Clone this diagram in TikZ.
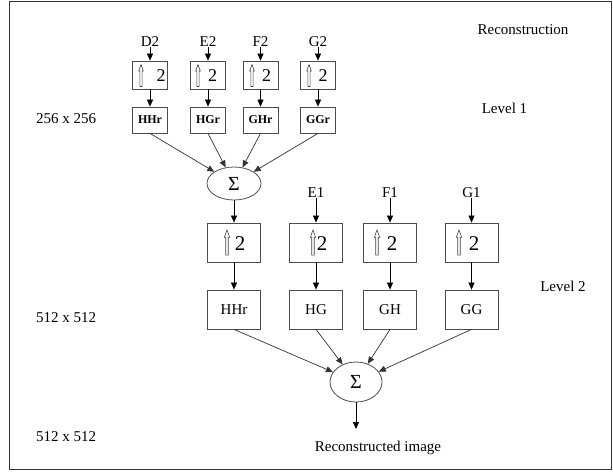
\documentclass[tikz,border=0pt]{standalone}
\usepackage{fontspec}
\setmainfont{Liberation Serif}
\usetikzlibrary{arrows.meta,shapes.geometric}

\tikzset{
  txt/.style={font=\fontsize{15}{15}\selectfont, inner sep=0pt},
  upbox/.style={draw=black!70, line width=0.8pt, minimum width=35pt, minimum height=28pt, inner sep=0pt},
  upboxL/.style={draw=black!70, line width=0.8pt, minimum width=53pt, minimum height=39pt, inner sep=0pt},
  filtbox/.style={draw=black!70, line width=0.8pt, minimum width=35pt, minimum height=26pt, inner sep=0pt,
                  font=\fontsize{12}{12}\selectfont\bfseries},
  filtboxL/.style={draw=black!70, line width=0.8pt, minimum width=53pt, minimum height=39pt, inner sep=0pt,
                  font=\fontsize{15}{15}\selectfont},
  sumnode/.style={ellipse, draw=black!70, line width=0.8pt, inner sep=0pt,
                  font=\fontsize{20}{20}\selectfont},
  two/.style={inner sep=0pt, font=\fontsize{18}{18}\selectfont},
  twoL/.style={inner sep=0pt, font=\fontsize{21}{21}\selectfont},
  arr/.style={draw=black, line width=0.7pt, -{Triangle[length=7pt,width=6pt]}},
  uparr/.pic={
    \draw[line width=0.6pt, draw=black!75, fill=white]
      (-1.1,11) -- (-1.1,-4.5) -- (-2.3,-4.5) -- (0,-11) -- (2.3,-4.5) -- (1.1,-4.5) -- (1.1,11) -- cycle;
  },
}

\begin{document}
\begin{tikzpicture}[x=1pt,y=-1pt]
\useasboundingbox (0,0) rectangle (613,472);
% outer frame
\draw[draw=black!80, line width=1.8pt] (9.5,1.5) rectangle (611.5,469.5);

% side labels
\node[txt] (title) at (523,30) {Reconstruction};
\node[txt] (lev1) at (504.5,108) {Level 1};
\node[txt] (lev2) at (563,286) {Level 2};
\node[txt] (res1) at (66,119) {256 x 256};
\node[txt] (res2) at (66,318) {512 x 512};
\node[txt] (res3) at (66,437) {512 x 512};

% ---- level 1 ----
\foreach \n/\x/\lab/\filt/\ao/\to in {a/150/D2/HHr/-9/11, b/208/E2/HGr/-10/4.5, c/260.5/F2/GHr/-8.5/6, d/318/G2/GGr/-9/5}{
  \node[txt] (in1\n) at (\x,42) {\lab};
  \node[upbox] (u1\n) at (\x,75) {};
  \pic[xshift=\ao pt, yshift=-0.5pt] at (u1\n) {uparr};
  \node[two] (two1\n) at ([xshift=\to pt, yshift=-1pt]u1\n.center) {2};
  \node[filtbox] (f1\n) at (\x,120) {\filt};
  \draw[arr] (in1\n.south) -- (u1\n.north);
  \draw[arr] (u1\n.south) -- (f1\n.north);
}
\node[sumnode, minimum width=54pt, minimum height=33pt] (s1) at (234,183.5) {Σ};
\foreach \n in {a,b,c,d}{
  \draw[arr, draw=black!80] (f1\n.south) -- (s1);
}

% ---- level 2 ----
\node[upboxL] (u2a) at (234,242.5) {};
\node[upboxL] (u2b) at (316,242.5) {};
\node[upboxL] (u2c) at (390,242.5) {};
\node[upboxL] (u2d) at (471.5,242.5) {};
\node[txt] (in2b) at (316,193) {E1};
\node[txt] (in2c) at (390,193) {F1};
\node[txt] (in2d) at (471.5,193) {G1};
\draw[arr] (s1.south) -- (u2a.north);
\draw[arr] (in2b.south) -- (u2b.north);
\draw[arr] (in2c.south) -- (u2c.north);
\draw[arr] (in2d.south) -- (u2d.north);

\foreach \n/\ao/\to in {a/-7/6, b/-3/6, c/-13/2, d/-12.5/2.5}{
  \pic[xshift=\ao pt, scale=1.15] at (u2\n) {uparr};
  \node[twoL] (two2\n) at ([xshift=\to pt, yshift=-1pt]u2\n.center) {2};
}

\node[filtboxL] (f2a) at (234,309.5) {HHr};
\node[filtboxL] (f2b) at (316,309.5) {HG};
\node[filtboxL] (f2c) at (390,309.5) {GH};
\node[filtboxL] (f2d) at (471.5,309.5) {GG};
\foreach \n in {a,b,c,d}{
  \draw[arr] (u2\n.south) -- (f2\n.north);
}

\node[sumnode, minimum width=52pt, minimum height=40pt] (s2) at (356,382) {Σ};
\foreach \n in {a,b,c,d}{
  \draw[arr, draw=black!80] (f2\n.south) -- (s2);
}
\coordinate (out) at (356,429);
\draw[arr] (s2.south) -- (out);
\node[txt] (outlab) at (378,448) {Reconstructed image};
\end{tikzpicture}
\end{document}
